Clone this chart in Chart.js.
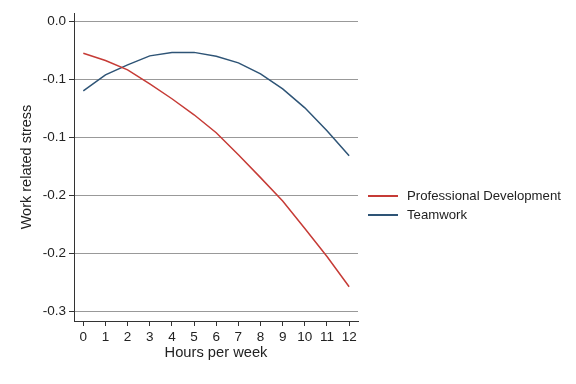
<!DOCTYPE html>
<html>
<head>
<meta charset="utf-8">
<script src="https://cdn.jsdelivr.net/npm/chart.js@4/dist/chart.umd.min.js"></script>
<style>
  body { margin: 0; background: #fff; }
  #wrap { position: relative; width: 576px; height: 384px; }
  #legend { position: absolute; left: 368px; top: 186px; font-family: "Liberation Sans", Arial, sans-serif; font-size: 13.2px; color: #222; }
  .item { display: flex; align-items: center; height: 19px; }
  .swatch { display: block; width: 30px; height: 2px; margin-right: 9px; }
</style>
</head>
<body>
<div id="wrap">
  <canvas id="chart" width="576" height="384"></canvas>
  <div id="legend"></div>
</div>
<script>
// hours per week
const hours = [0, 1, 2, 3, 4, 5, 6, 7, 8, 9, 10, 11, 12];
// predicted work related stress
const profDev = [-0.0275, -0.0338, -0.0418, -0.0539, -0.0667, -0.0805, -0.0960, -0.1149, -0.1346, -0.1548, -0.1784, -0.2025, -0.2285];
const teamwork = [-0.0599, -0.0461, -0.0375, -0.0298, -0.0270, -0.0268, -0.0302, -0.0358, -0.0453, -0.0582, -0.0745, -0.0942, -0.1157];

const seriesNames = ["Professional Development", "Teamwork"];
const seriesColors = ["#c63b36", "#2e5476"];

const xTicks = [0, 1, 2, 3, 4, 5, 6, 7, 8, 9, 10, 11, 12];
const yTickValues = [0, -0.05, -0.10, -0.15, -0.20, -0.25];
const yTickLabels = ["0.0", "-0.1", "-0.1", "-0.2", "-0.2", "-0.3"];

const fontFamily = '"Liberation Sans", Arial, sans-serif';

function toPoints(ys) {
  return hours.map((h, i) => ({ x: h, y: ys[i] }));
}

const ctx = document.getElementById("chart").getContext("2d");
const chart = new Chart(ctx, {
  type: "line",
  data: {
    datasets: [
      { label: seriesNames[0], data: toPoints(profDev), borderColor: seriesColors[0], borderWidth: 1.5, pointRadius: 0, tension: 0, fill: false },
      { label: seriesNames[1], data: toPoints(teamwork), borderColor: seriesColors[1], borderWidth: 1.5, pointRadius: 0, tension: 0, fill: false }
    ]
  },
  options: {
    responsive: false,
    animation: false,
    devicePixelRatio: 1,
    layout: { padding: { left: 0, top: 13, right: 218, bottom: 0 } },
    plugins: { legend: { display: false }, tooltip: { enabled: false } },
    scales: {
      x: {
        type: "linear",
        min: -0.42,
        max: 12.4,
        afterBuildTicks: s => { s.ticks = xTicks.map(v => ({ value: v })); },
        afterFit: s => { s.height = 63; },
        grid: { drawOnChartArea: false, tickLength: 5, tickColor: "#333" },
        border: { color: "#333", width: 1 },
        ticks: { font: { family: fontFamily, size: 13.5 }, color: "#222", padding: 3, autoSkip: false, maxRotation: 0 },
        title: { display: true, text: "Hours per week", font: { family: fontFamily, size: 14.7 }, color: "#222", padding: { top: 0, bottom: 22 } }
      },
      y: {
        type: "linear",
        min: -0.258,
        max: 0.0071,
        afterBuildTicks: s => { s.ticks = yTickValues.map(v => ({ value: v })); },
        afterFit: s => { s.width = 74; },
        grid: { color: "#999", lineWidth: 1, tickLength: 5, tickColor: "#333" },
        border: { color: "#333", width: 1 },
        ticks: {
          font: { family: fontFamily, size: 13.5 },
          color: "#222",
          padding: 3,
          callback: (v, i) => yTickLabels[i]
        },
        title: { display: true, text: "Work related stress", font: { family: fontFamily, size: 14.5 }, color: "#222", padding: { top: 18, bottom: 0 } }
      }
    }
  }
});

// legend on the right
const legend = document.getElementById("legend");
seriesNames.forEach((name, i) => {
  const item = document.createElement("div");
  item.className = "item";
  const sw = document.createElement("span");
  sw.className = "swatch";
  sw.style.backgroundColor = seriesColors[i];
  const txt = document.createElement("span");
  txt.textContent = name;
  item.appendChild(sw);
  item.appendChild(txt);
  legend.appendChild(item);
});
</script>
</body>
</html>
